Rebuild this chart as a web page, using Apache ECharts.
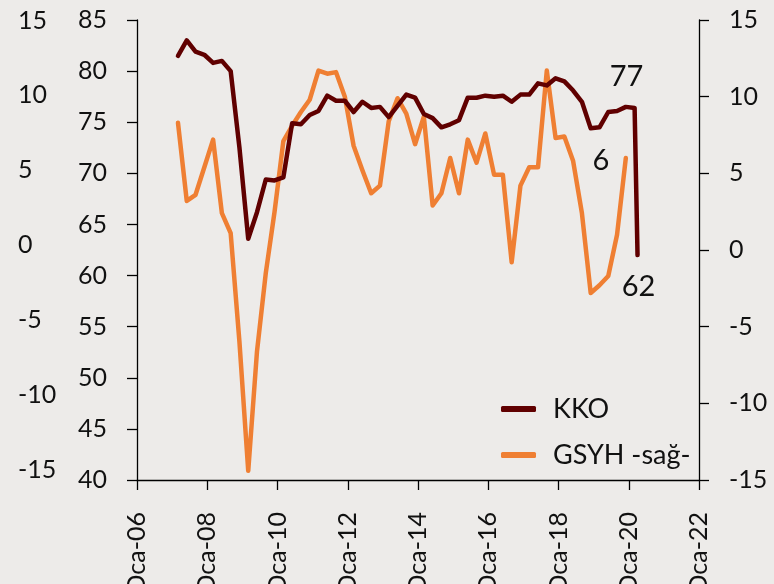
<!DOCTYPE html>
<html>
<head>
<meta charset="utf-8">
<script src="https://cdn.jsdelivr.net/npm/echarts@6/dist/echarts.min.js"></script>
<style>
html,body{margin:0;padding:0;background:#edebe9;}
#chart{width:774px;height:584px;}
</style>
</head>
<body>
<div id="chart"></div>
<script>
// ---- data ----
const kkoDates = [
  '2007-03','2007-06','2007-09','2007-12',
  '2008-03','2008-06','2008-09','2008-12',
  '2009-03','2009-06','2009-09','2009-12',
  '2010-03','2010-06','2010-09','2010-12',
  '2011-03','2011-06','2011-09','2011-12',
  '2012-03','2012-06','2012-09','2012-12',
  '2013-03','2013-06','2013-09','2013-12',
  '2014-03','2014-06','2014-09','2014-12',
  '2015-03','2015-06','2015-09','2015-12',
  '2016-03','2016-06','2016-09','2016-12',
  '2017-03','2017-06','2017-09','2017-12',
  '2018-03','2018-06','2018-09','2018-12',
  '2019-03','2019-06','2019-09','2019-12',
  '2020-03','2020-04'
];
const kkoValues = [
  81.5, 83.0, 81.9, 81.6,
  80.8, 81.0, 80.0, 72.5,
  63.6, 66.2, 69.4, 69.3,
  69.6, 74.9, 74.8, 75.7,
  76.1, 77.6, 77.1, 77.1,
  76.0, 77.0, 76.4, 76.5,
  75.5, 76.6, 77.7, 77.4,
  75.8, 75.4, 74.5, 74.8,
  75.2, 77.4, 77.4, 77.6,
  77.5, 77.6, 77.0, 77.7,
  77.7, 78.8, 78.6, 79.3,
  79.0, 78.1, 77.0, 74.4,
  74.5, 76.0, 76.1, 76.5,
  76.4, 62.0
];
const gsyhDates = [
  '2007-03','2007-06','2007-09','2007-12',
  '2008-03','2008-06','2008-09','2008-12',
  '2009-03','2009-06','2009-09','2009-12',
  '2010-03','2010-06','2010-09','2010-12',
  '2011-03','2011-06','2011-09','2011-12',
  '2012-03','2012-06','2012-09','2012-12',
  '2013-03','2013-06','2013-09','2013-12',
  '2014-03','2014-06','2014-09','2014-12',
  '2015-03','2015-06','2015-09','2015-12',
  '2016-03','2016-06','2016-09','2016-12',
  '2017-03','2017-06','2017-09','2017-12',
  '2018-03','2018-06','2018-09','2018-12',
  '2019-03','2019-06','2019-09','2019-12'
];
const gsyhValues = [
  8.3, 3.2, 3.6, 5.4,
  7.2, 2.4, 1.1, -6.0,
  -14.4, -6.6, -1.5, 2.5,
  7.1, 8.1, 9.0, 9.8,
  11.7, 11.5, 11.6, 10.0,
  6.8, 5.2, 3.7, 4.2,
  8.4, 9.9, 8.9, 6.9,
  8.7, 2.9, 3.7, 6.0,
  3.7, 7.2, 5.7, 7.6,
  4.9, 4.9, -0.8, 4.2,
  5.4, 5.4, 11.7, 7.3,
  7.4, 5.8, 2.4, -2.8,
  -2.3, -1.7, 1.0, 6.0
];
const xTickYears = [2006, 2008, 2010, 2012, 2014, 2016, 2018, 2020, 2022];
const xTickLabels = ['Oca-06','Oca-08','Oca-10','Oca-12','Oca-14','Oca-16','Oca-18','Oca-20','Oca-22'];
const leftTicks = [40, 45, 50, 55, 60, 65, 70, 75, 80, 85];
const rightTicks = [-15, -10, -5, 0, 5, 10, 15];
const seriesNames = ['KKO', 'GSYH -sağ-'];
// annotated points: [series, index in series, text]
const annotations = [
  ['kko', 52, '77'],
  ['kko', 53, '62'],
  ['gsyh', 51, '6']
];

// ---- helpers ----
function toYear(d) {
  const p = d.split('-');
  return Number(p[0]) + (Number(p[1]) - 1) / 12;
}
const kkoData = kkoDates.map((d, i) => [toYear(d), kkoValues[i]]);
const gsyhData = gsyhDates.map((d, i) => [toYear(d), gsyhValues[i]]);

const FONT = 'Lato';
const TXT = '#111111';
const KKO_COLOR = '#600000';
const GSYH_COLOR = '#ef7f33';

const annotOffsets = { '77': [-8, -31], '62': [1, 32], '6': [-25, 3] };
function markFor(kind) {
  return annotations.filter(a => a[0] === kind).map(a => {
    const pt = (kind === 'kko' ? kkoData : gsyhData)[a[1]];
    return {
      coord: pt,
      symbol: 'circle',
      symbolSize: 1,
      itemStyle: { color: 'rgba(0,0,0,0)' },
      label: {
        show: true, formatter: a[2], position: 'inside',
        offset: annotOffsets[a[2]],
        fontFamily: FONT, fontSize: 29, color: TXT
      }
    };
  });
}

const chart = echarts.init(document.getElementById('chart'), null, { renderer: 'canvas' });
const axisLine = { show: true, onZero: false, lineStyle: { color: '#000', width: 1.3 } };
const axisTick = { show: true, length: 10, inside: false, lineStyle: { color: '#000', width: 1.3 } };

chart.setOption({
  animation: false,
  backgroundColor: '#edebe9',
  grid: [
    { left: 137, right: 75, top: 20, bottom: 104, containLabel: false, outerBoundsMode: 'none' },
    { left: 137, right: 75, top: 20.5, height: 449, containLabel: false, outerBoundsMode: 'none' }
  ],
  legend: {
    orient: 'vertical',
    left: 496,
    top: 389,
    itemWidth: 35,
    itemHeight: 6,
    itemGap: 16,
    icon: 'roundRect',
    textStyle: { fontFamily: FONT, fontSize: 27, color: TXT, lineHeight: 30, padding: [0, 0, 0, 12] },
    data: seriesNames
  },
  xAxis: [
    {
      type: 'value', gridIndex: 0,
      min: xTickYears[0], max: xTickYears[xTickYears.length - 1], interval: 2,
      axisLine: axisLine, axisTick: axisTick, splitLine: { show: false },
      axisLabel: {
        rotate: 90, margin: 32, fontFamily: FONT, fontSize: 25, color: TXT,
        formatter: v => xTickLabels[xTickYears.indexOf(v)] || ''
      }
    },
    { type: 'value', gridIndex: 1, min: 0, max: 1, show: false }
  ],
  yAxis: [
    {
      type: 'value', gridIndex: 0, position: 'left',
      min: leftTicks[0], max: leftTicks[leftTicks.length - 1], interval: 5,
      axisLine: axisLine, axisTick: axisTick, splitLine: { show: false },
      axisLabel: { margin: 30, fontFamily: FONT, fontSize: 25, color: TXT }
    },
    {
      type: 'value', gridIndex: 0, position: 'right',
      min: rightTicks[0], max: rightTicks[rightTicks.length - 1], interval: 5,
      axisLine: axisLine, axisTick: axisTick, splitLine: { show: false },
      axisLabel: { margin: 30, fontFamily: FONT, fontSize: 25, color: TXT }
    },
    {
      type: 'value', gridIndex: 1, position: 'left',
      min: rightTicks[0], max: rightTicks[rightTicks.length - 1], interval: 5,
      axisLine: { show: false }, axisTick: { show: false }, splitLine: { show: false },
      axisLabel: { margin: 119, align: 'left', fontFamily: FONT, fontSize: 25, color: TXT }
    }
  ],
  series: [
    {
      name: seriesNames[0], type: 'line', xAxisIndex: 0, yAxisIndex: 0,
      data: kkoData, showSymbol: false, symbol: 'none',
      lineStyle: { color: KKO_COLOR, width: 4.5, join: 'round', cap: 'round' },
      itemStyle: { color: KKO_COLOR },
      z: 3,
      markPoint: { silent: true, data: markFor('kko') }
    },
    {
      name: seriesNames[1], type: 'line', xAxisIndex: 0, yAxisIndex: 1,
      data: gsyhData, showSymbol: false, symbol: 'none',
      lineStyle: { color: GSYH_COLOR, width: 4.5, join: 'round', cap: 'round' },
      itemStyle: { color: GSYH_COLOR },
      z: 2,
      markPoint: { silent: true, data: markFor('gsyh') }
    }
  ]
});
</script>
</body>
</html>
